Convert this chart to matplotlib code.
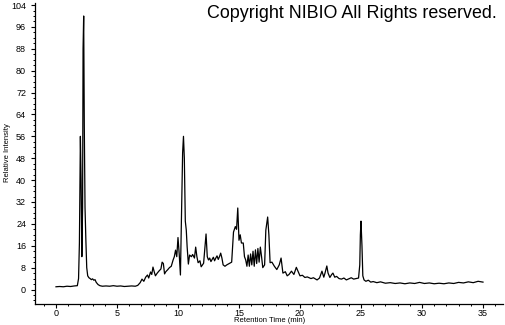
import matplotlib
matplotlib.use("Agg")
import matplotlib.pyplot as plt
from matplotlib.ticker import MultipleLocator

plt.rcParams['font.family'] = ['Liberation Sans', 'DejaVu Sans']

retention_time = [
    0.0, 0.3, 0.6, 0.9, 1.2, 1.5, 1.75, 1.85, 1.92, 2.0, 2.06, 2.12, 2.18, 2.22, 2.27,
    2.32, 2.38, 2.45, 2.52, 2.6, 2.7, 2.8, 2.9, 3.0, 3.1, 3.2, 3.3, 3.45, 3.6, 3.8,
    4.1, 4.4, 4.7, 5.0, 5.3, 5.6, 5.9, 6.2, 6.5, 6.7, 6.9, 7.05, 7.2, 7.35, 7.5,
    7.6, 7.75, 7.85, 7.95, 8.05, 8.15, 8.3, 8.45, 8.6, 8.7, 8.8, 8.9, 9.0, 9.15, 9.3,
    9.45, 9.6, 9.7, 9.8, 9.9, 10.0, 10.1, 10.2, 10.3, 10.38, 10.45, 10.52, 10.6, 10.68, 10.75,
    10.85, 10.95, 11.1, 11.2, 11.35, 11.45, 11.55, 11.65, 11.8, 11.9, 12.1, 12.3, 12.4, 12.5, 12.6,
    12.7, 12.8, 12.9, 13.0, 13.1, 13.2, 13.3, 13.4, 13.5, 13.6, 13.7, 13.85, 14.0, 14.2, 14.4,
    14.55, 14.7, 14.8, 14.9, 15.0, 15.1, 15.2, 15.35, 15.45, 15.55, 15.65, 15.75, 15.85, 15.95, 16.05,
    16.15, 16.25, 16.35, 16.45, 16.55, 16.65, 16.75, 16.85, 16.95, 17.1, 17.2, 17.35, 17.45, 17.55, 17.7,
    17.9, 18.1, 18.3, 18.45, 18.6, 18.8, 18.95, 19.1, 19.3, 19.5, 19.7, 19.85, 20.0, 20.2, 20.4,
    20.6, 20.9, 21.1, 21.4, 21.6, 21.8, 21.95, 22.05, 22.2, 22.3, 22.45, 22.6, 22.7, 22.85, 23.0,
    23.2, 23.4, 23.6, 23.8, 24.0, 24.2, 24.4, 24.6, 24.8, 24.9, 24.95, 25.0, 25.08, 25.15, 25.25,
    25.4, 25.6, 25.8, 26.0, 26.3, 26.6, 27.0, 27.4, 27.8, 28.2, 28.6, 29.0, 29.4, 29.8, 30.2,
    30.6, 31.0, 31.4, 31.8, 32.2, 32.6, 33.0, 33.4, 33.8, 34.2, 34.6, 35.0,
]
relative_intensity = [
    1.0, 1.1, 1.0, 1.2, 1.1, 1.3, 1.4, 4.0, 17.0, 56.0, 40.0, 12.0, 30.0, 88.0, 100.0,
    60.0, 30.0, 18.0, 8.0, 5.0, 4.3, 4.0, 3.6, 3.9, 3.4, 3.6, 2.6, 1.8, 1.4, 1.2,
    1.3, 1.2, 1.4, 1.2, 1.3, 1.1, 1.2, 1.3, 1.2, 1.5, 2.5, 3.8, 3.0, 4.5, 5.3,
    4.2, 6.4, 5.5, 8.2, 6.5, 5.0, 6.0, 6.8, 7.5, 10.0, 9.5, 5.7, 6.5, 7.2, 8.0,
    8.5, 10.8, 12.0, 14.4, 12.0, 19.0, 13.0, 5.3, 30.0, 50.0, 56.0, 48.0, 25.0, 21.7, 15.6,
    9.3, 12.6, 12.0, 12.8, 11.5, 15.5, 12.0, 9.8, 10.5, 8.3, 9.6, 20.3, 12.0, 10.8, 11.5,
    10.2, 11.0, 11.8, 10.5, 11.5, 12.3, 11.0, 12.0, 13.3, 11.5, 9.0, 8.5, 9.0, 9.5, 10.0,
    21.0, 23.0, 22.0, 29.8, 18.0, 20.0, 17.0, 17.0, 12.0, 10.8, 8.5, 12.6, 8.5, 13.0, 9.0,
    14.0, 8.5, 14.5, 9.5, 15.0, 10.0, 15.5, 12.0, 8.0, 9.0, 21.7, 26.5, 20.0, 9.8, 10.0,
    8.5, 7.3, 9.0, 11.5, 6.0, 6.5, 5.0, 5.5, 6.7, 5.5, 8.1, 6.5, 5.0, 5.2, 4.4,
    4.6, 4.0, 4.3, 3.5, 4.2, 6.7, 4.5, 6.0, 8.6, 6.0, 4.4, 5.5, 6.0, 4.5, 4.8,
    4.0, 3.8, 4.2, 3.5, 3.9, 4.3, 3.8, 4.0, 4.2, 9.0, 20.0, 25.0, 16.0, 5.0, 3.5,
    3.0, 3.4, 2.7, 2.9, 2.5, 2.8, 2.3, 2.5, 2.2, 2.4, 2.1, 2.4, 2.2, 2.6, 2.2,
    2.4, 2.1, 2.3, 2.1, 2.4, 2.2, 2.6, 2.4, 2.8, 2.5, 3.0, 2.7,
]
y_ticks = list(range(0, 105, 8))
x_ticks = [0, 5, 10, 15, 20, 25, 30, 35]

fig = plt.figure(figsize=(5.05, 3.25), dpi=100)
ax = fig.add_axes([35 / 505, 21 / 325, 468 / 505, 301 / 325])
ax.plot(retention_time, relative_intensity, color='black', linewidth=0.9)

ax.set_xlim(-1.72, 36.64)
ax.set_ylim(-5.3, 104.75)
ax.set_xticks(x_ticks)
ax.set_yticks(y_ticks)
ax.xaxis.set_minor_locator(MultipleLocator(1))
ax.yaxis.set_minor_locator(MultipleLocator(2))
for s in ['top', 'right']:
    ax.spines[s].set_visible(False)
for s in ['left', 'bottom']:
    ax.spines[s].set_linewidth(0.9)
ax.tick_params(which='major', length=2.6, width=0.8, labelsize=6.5)
ax.tick_params(which='minor', length=1.6, width=0.7)
ax.tick_params(axis='x', which='major', pad=0.8)
ax.tick_params(axis='y', which='major', pad=3.8)

fig.text(270 / 505, 1 - 320 / 325, 'Retention Time (min)', ha='center', va='center', fontsize=5.5)
fig.text(8 / 505, 1 - 153 / 325, 'Relative Intensity', ha='center', va='center',
         rotation=90, fontsize=5.5)

fig.text(497 / 505, 1 - 14 / 325, 'Copyright NIBIO All Rights reserved.',
         ha='right', va='center', fontsize=12.9)

fig.savefig('out.png', dpi=100)
